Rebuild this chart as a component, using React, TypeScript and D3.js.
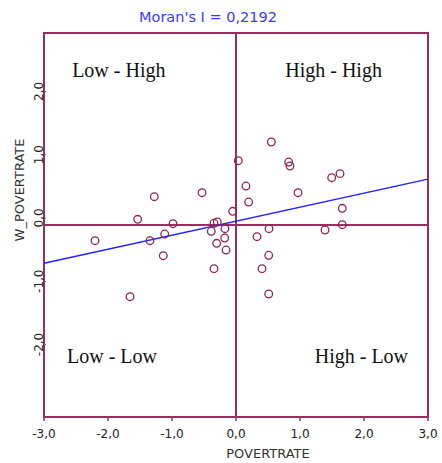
import React from "react";
import * as d3 from "d3";

const povertrate: number[] = [
  0.036, 0.156, 0.198, -1.277, -0.531, -1.536, -0.984, -0.052, -0.344, -0.292,
  -0.172, -0.386, -2.203, -1.344, -1.114, -0.177, -0.302, -0.156, -1.136, -0.344,
  -1.656, 0.552, 0.823, 0.844, 1.625, 1.495, 0.969, 1.661, 1.661, 1.391,
  0.516, 0.328, 0.511, 0.406, 0.511,
];
const wPovertrate: number[] = [
  1.005, 0.609, 0.359, 0.442, 0.505, 0.089, 0.02, 0.214, 0.027, 0.047,
  -0.058, -0.098, -0.245, -0.245, -0.141, -0.203, -0.286, -0.391, -0.48, -0.683,
  -1.12, 1.297, 0.984, 0.922, 0.802, 0.739, 0.505, 0.261, 0.005, -0.078,
  -0.058, -0.183, -0.473, -0.683, -1.078,
];
const xTicks: number[] = [-3, -2, -1, 0, 1, 2, 3];
const yTicks: number[] = [-2, -1, 0, 1, 2];
const moransI = 0.2192;
const intercept = 0.059;
const quadrantLabels: { text: string; x: number; y: number }[] = [
  { text: "Low - High", x: -2.56, y: 2.32 },
  { text: "High - High", x: 0.77, y: 2.32 },
  { text: "Low - Low", x: -2.64, y: -2.16 },
  { text: "High - Low", x: 1.23, y: -2.16 },
];

const fmt = (v: number) => v.toFixed(1).replace(".", ",");

export default function App() {
  const W = 442, H = 463;
  const left = 44, right = 428, top = 33, bottom = 417;
  const x = d3.scaleLinear().domain([-3, 3]).range([left, right]);
  const y = d3.scaleLinear().domain([-3, 3]).range([bottom, top]);
  const yTickScale = d3.scaleLinear().domain([-3, 3]).range([407.75, 28.25]);
  const frame = "#96305f";
  const pts = povertrate.map((v, i) => [v, wPovertrate[i]] as [number, number]);
  const line = d3.line<number>().x((d) => x(d)).y((d) => y(intercept + moransI * d));
  return (
    <svg width={W} height={H} style={{ position: "absolute", left: 0, top: 0, background: "#fff" }}>
      <text x={208} y={22} textAnchor="middle" fontFamily="DejaVu Sans, sans-serif" fontSize={14.5} fill="#3b3bff">
        {`Moran's I = ${moransI.toFixed(4).replace(".", ",")}`}
      </text>
      <rect x={left} y={top} width={right - left} height={bottom - top} fill="none" stroke={frame} strokeWidth={2} />
      <line x1={x(0)} x2={x(0)} y1={top} y2={bottom} stroke={frame} strokeWidth={2} />
      <line x1={left} x2={right} y1={y(0)} y2={y(0)} stroke={frame} strokeWidth={2} />
      {xTicks.map((t) => (
        <g key={"x" + t}>
          <line x1={x(t)} x2={x(t)} y1={bottom} y2={bottom + 4} stroke={frame} strokeWidth={1.5} />
          <text x={x(t)} y={438} textAnchor="middle" fontFamily="DejaVu Sans, sans-serif" fontSize={12} fill="#222">
            {fmt(t)}
          </text>
        </g>
      ))}
      {yTicks.map((t) => (
        <g key={"y" + t}>
          <line x1={left} x2={left + 2} y1={yTickScale(t)} y2={yTickScale(t)} stroke="#5a5acc" strokeWidth={1} />
          <text
            transform={`translate(${left - 1},${yTickScale(t)}) rotate(-90)`}
            textAnchor="middle"
            fontFamily="DejaVu Sans, sans-serif"
            fontSize={12}
            fill="#222"
          >
            {fmt(t)}
          </text>
        </g>
      ))}
      <text x={268} y={458} textAnchor="middle" fontFamily="DejaVu Sans, sans-serif" fontSize={13} fill="#333">
        POVERTRATE
      </text>
      <text
        transform={`translate(24,190) rotate(-90)`}
        textAnchor="middle"
        fontFamily="DejaVu Sans, sans-serif"
        fontSize={13}
        fill="#333"
      >
        W_POVERTRATE
      </text>
      <path d={line([-3, 3]) || ""} stroke="#2222ff" strokeWidth={1.5} fill="none" />
      {pts.map((p, i) => (
        <circle key={i} cx={x(p[0])} cy={y(p[1])} r={3.8} fill="none" stroke="#8e2450" strokeWidth={1.3} />
      ))}
      {quadrantLabels.map((q) => (
        <text key={q.text} x={x(q.x)} y={y(q.y)} fontFamily="Liberation Serif, serif" fontSize={20} fill="#111">
          {q.text}
        </text>
      ))}
    </svg>
  );
}
